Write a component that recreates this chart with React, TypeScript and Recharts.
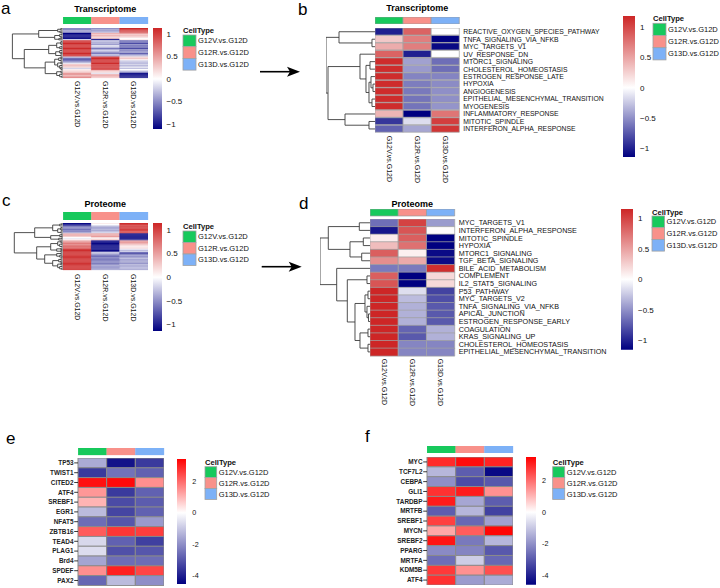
import React from 'react';
import { BarChart, Bar, Cell, XAxis, YAxis, LineChart, Line } from 'recharts';

const FONT = '"Liberation Sans", Arial, Helvetica, sans-serif';

// ---- shared categories ----
const cellTypes = ['G12V.vs.G12D', 'G12R.vs.G12D', 'G13D.vs.G12D'];
const cellTypeColors = ['#17C95C', '#F8918A', '#7DB1F7'];
const cellKeys = ['g12v', 'g12r', 'g13d'];

// ---- panel a: transcriptome, all genes (rows of G12V, G12R, G13D) ----
const aValues = [
  [-0.5, -0.5, 1.1], [-0.6, -0.4, 1.1], [-0.4, -0.5, 1.0], [-0.5, -0.3, 0.9],
  [-1.1, 0.4, 0.5], [-1.1, 0.3, 0.3], [-1.1, 0.5, 0.4], [-1.1, 0.2, 0.2], [-1.1, 0.3, 0.0],
  [-0.2, -1.1, 0.1],
  [1.1, -0.2, -0.7], [1.1, -0.4, -0.6], [1.1, -0.3, -0.8], [1.1, -0.5, -0.5], [1.1, -0.1, -0.7],
  [1.1, -0.3, -0.6], [1.1, -0.6, -0.8], [1.1, -0.4, -0.5], [1.1, -0.2, -0.6], [1.1, -0.5, -0.4],
  [1.1, -0.6, -0.7], [1.1, -0.3, -0.5], [1.1, -0.4, -0.3],
  [-0.3, 1.1, 0.2], [-0.6, 1.1, 0.3], [-0.8, 1.1, 0.1], [-0.7, 1.1, -0.2], [-0.4, 1.1, -0.3],
  [-0.1, 1.1, -0.3], [0.3, 1.0, -0.2], [0.4, 1.1, -0.4], [0.2, 1.0, -0.1], [-0.2, 0.9, -0.3], [0.1, 1.0, 0.0],
  [0.2, 0.3, -0.2], [0.3, 0.2, -0.5], [0.5, -0.1, -1.0], [0.6, 0.4, -1.1], [0.4, 0.5, -1.1], [0.7, 0.3, -1.0],
];
// dendrogram: [height, left, right], leaves are row indexes
const aTree: any = [50.3,
  [24, [5, [2, 0, 1], [3, 2, 3]], [8, [3, [1, 4, 5], [2, 6, 7]], [4, 8, 9]]],
  [38.4,
    [14, [6, [2, [1, 10, 11], [1, 12, 13]], [3, [1, 14, 15], 16]], [7, [3, [1, 17, 18], [2, 19, 20]], [2, 21, 22]]],
    [17.5,
      [8, [4, [2, 23, 24], [2, 25, 26]], [5, [2, 27, 28], [3, [1, 29, 30], [2, 31, [1, 32, 33]]]]],
      [6, [2, 34, 35], [3, [1, 36, 37], [1, 38, 39]]]]]];

// ---- panel b: transcriptome hallmark pathways ----
const bRows = [
  'REACTIVE_OXYGEN_SPECIES_PATHWAY', 'TNFA_SIGNALING_VIA_NFKB', 'MYC_TARGETS_V1', 'UV_RESPONSE_DN',
  'MTORC1_SIGNALING', 'CHOLESTEROL_HOMEOSTASIS', 'ESTROGEN_RESPONSE_LATE', 'HYPOXIA', 'ANGIOGENESIS',
  'EPITHELIAL_MESENCHYMAL_TRANSITION', 'MYOGENESIS', 'INFLAMMATORY_RESPONSE', 'MITOTIC_SPINDLE',
  'INTERFERON_ALPHA_RESPONSE',
];
const bValues = [
  [-1.0, 0.85, 0.0], [0.3, 0.7, -1.15], [0.45, 0.7, -1.1], [0.85, -1.0, 0.0],
  [1.15, -0.42, -0.65], [1.15, -0.45, -0.65], [1.15, -0.55, -0.55], [1.15, -0.58, -0.52],
  [1.15, -0.6, -0.5], [1.15, -0.62, -0.5], [1.15, -0.62, -0.48], [0.4, -1.15, 0.75],
  [-0.9, -0.15, 1.05], [-0.7, -0.4, 1.1],
];
const bTree: any = [49,
  [36, 0, [3, 1, 2]],
  [47, [15, 3, [9, [5, 4, 5], [6, [4, 6, [2, 7, 8]], [3, 9, 10]]]], [30, 11, [6, 12, 13]]]];

// ---- panel c: proteome, all proteins ----
const cValues = [
  [-1.1, 0.1, 1.1], [-1.0, 0.0, 1.1], [-0.9, -0.2, 1.0],
  [-0.6, -0.4, 1.1], [-0.5, -0.5, 1.0], [-0.7, -0.3, 1.1], [-0.5, -0.4, 1.0], [-0.6, -0.3, 0.9], [-0.4, -0.2, 1.0],
  [0.4, 0.5, -1.1], [0.5, 0.4, -1.1], [0.3, 0.6, -1.0],
  [0.0, 0.2, -1.0], [-0.1, 0.1, -1.1], [0.1, 0.3, -0.9],
  [0.5, -1.1, 0.5], [0.6, -1.1, 0.6], [0.7, -1.1, 0.4], [0.6, -1.1, 0.3], [0.8, -1.1, 0.2], [0.9, -1.1, 0.1], [0.8, -1.1, 0.2],
  [1.1, -1.0, -0.1], [1.1, -1.1, -0.3], [1.1, -0.9, -0.2],
  [1.1, -0.2, -0.8], [1.1, -0.4, -0.9],
  [1.1, -0.6, -0.4], [1.1, -0.7, -0.5], [1.1, -0.5, -0.4], [1.1, -0.6, -0.3], [1.1, -0.7, -0.5],
  [1.1, -0.6, -0.4], [1.1, -0.5, -0.4], [1.1, -0.6, -0.5], [1.1, -0.5, -0.3], [1.1, -0.4, -0.4],
  [1.1, -0.5, -0.4], [1.1, -0.5, -0.3], [1.1, -0.4, -0.4],
];
const cTree: any = [48.4,
  [28, [10, [3, [1, 0, 1], 2], [5, [2, [1, 3, 4], [1, 5, 6]], [2, 7, 8]]], [12, [3, [1, 9, 10], 11], [4, [1, 12, 13], 14]]],
  [26,
    [12, [5, [2, 15, 16], [3, [1, 17, 18], [1, 19, 20]]], [6, [2, 21, 22], [2, 23, 24]]],
    [18, [6, [2, 25, 26], [3, 27, [1, 28, 29]]], [10, [4, [2, 30, 31], [2, 32, 33]], [5, [2, 34, 35], [3, [1, 36, 37], [1, 38, 39]]]]]]];

// ---- panel d: proteome hallmark pathways ----
const dRows = [
  'MYC_TARGETS_V1', 'INTERFERON_ALPHA_RESPONSE', 'MITOTIC_SPINDLE', 'HYPOXIA', 'MTORC1_SIGNALING',
  'TGF_BETA_SIGNALING', 'BILE_ACID_METABOLISM', 'COMPLEMENT', 'IL2_STAT5_SIGNALING', 'P53_PATHWAY',
  'MYC_TARGETS_V2', 'TNFA_SIGNALING_VIA_NFKB', 'APICAL_JUNCTION', 'ESTROGEN_RESPONSE_EARLY',
  'COAGULATION', 'KRAS_SIGNALING_UP', 'CHOLESTEROL_HOMEOSTASIS', 'EPITHELIAL_MESENCHYMAL_TRANSITION',
];
const dValues = [
  [-0.65, 1.0, -0.45], [-1.05, 0.9, 0.02], [0.1, 0.85, -1.15], [0.35, 0.75, -1.15], [0.85, 0.08, -1.1],
  [0.6, 0.45, -1.1], [-0.6, -0.6, 1.1], [0.85, -1.15, 0.2], [0.9, -1.15, 0.2], [1.15, -0.15, -0.85],
  [1.15, -0.3, -0.8], [1.15, -0.35, -0.75], [1.15, -0.35, -0.75], [1.15, -0.35, -0.75],
  [1.15, -0.7, -0.35], [1.15, -0.75, -0.35], [1.15, -0.55, -0.55], [1.15, -0.55, -0.55],
];
const dTree: any = [50,
  [41.7, [10.7, 0, 1], [20, [6.7, 2, 3], [8.3, 4, 5]]],
  [33.3, 6, [22.7, [3, 7, 8], [15, [5, [2, 9, 10], [3, 11, [1.5, 12, 13]]], [10, [2, 14, 15], [2, 16, 17]]]]]];

// ---- panel e / f: transcription factors ----
const eRows = ['TP53', 'TWIST1', 'CITED2', 'ATF4', 'SREBF1', 'EGR1', 'NFAT5', 'ZBTB16', 'TEAD4', 'PLAG1', 'Brd4', 'SPDEF', 'PAX2'];
const eValues = [
  [-1.5, -4.2, -3.5], [-3.5, -2.5, -2.8], [3.2, 3.3, 1.5], [1.4, -3.5, -2.8], [1.0, -3.2, -2.9],
  [-1.2, -3.3, -2.8], [-2.6, -3.0, -1.8], [2.2, 2.7, 2.6], [-0.7, -2.8, -3.4], [-0.6, -3.1, -3.0],
  [-1.6, -2.6, -2.6], [1.5, 3.0, 2.5], [-2.7, -1.2, -2.0],
];
const fRows = ['MYC', 'TCF7L2', 'CEBPA', 'GLI1', 'TARDBP', 'MRTFB', 'SREBF1', 'MYCN', 'SREBF2', 'PPARG', 'MRTFA', 'KDM5B', 'ATF4'];
const fValues = [
  [2.9, 3.3, 3.0], [-1.3, -2.9, -4.4], [-2.0, -3.2, -3.0], [2.8, 3.1, 1.5], [3.1, -1.6, -2.9],
  [-2.9, -1.3, -3.4], [2.6, -2.7, -1.7], [1.2, 2.2, 3.4], [3.2, -2.4, -1.3], [-2.1, -2.2, -3.0],
  [-2.6, -0.9, -2.7], [2.7, 1.5, 2.4], [2.8, -1.8, -1.5],
];

const smallTicks = [1, 0.5, 0, -0.5, -1];
const bigTicks = [2, 0, -2, -4];

type Rgb = number[];
const WHITE: Rgb = [255, 255, 255];
const NAVY: Rgb = [0, 0, 128];
const FIREBRICK: Rgb = [205, 38, 38];
const RED: Rgb = [255, 0, 0];

interface Scale { lo: number; hi: number; low: Rgb; high: Rgb }
const css = (c: Rgb) => `rgb(${c.map((v) => Math.round(v)).join(',')})`;
const mix = (a: Rgb, b: Rgb, t: number) => a.map((v, i) => v + (b[i] - v) * t);
const colorOf = (s: Scale, v: number) =>
  v >= 0 ? css(mix(WHITE, s.high, Math.min(1, v / s.hi))) : css(mix(WHITE, s.low, Math.min(1, v / s.lo)));

const fmtMinus = (v: number) => (v < 0 ? '\u2212' + Math.abs(v) : String(v));
const fmtHyphen = (v: number) => String(v);

type Pt = { h: number; y: number };
const walk = (node: any, out: Pt[][]): Pt => {
  if (typeof node === 'number') return { h: 0, y: node + 0.5 };
  const [h, a, b] = node;
  const l = walk(a, out);
  const r = walk(b, out);
  out.push([{ h: l.h, y: l.y }, { h, y: l.y }, { h, y: r.y }, { h: r.h, y: r.y }]);
  return { h, y: (l.y + r.y) / 2 };
};

const M0 = { top: 0, right: 0, bottom: 0, left: 0 };

const Dendro = ({ left, top, width, height, tree, n }: any) => {
  const segs: Pt[][] = [];
  walk(tree, segs);
  return (
    <div style={{ position: 'absolute', left, top }}>
      <LineChart width={width} height={height} margin={M0}>
        <XAxis type="number" dataKey="h" domain={[0, width]} reversed hide />
        <YAxis type="number" domain={[0, n]} reversed hide />
        {segs.map((s, i) => (
          <Line key={i} data={s} dataKey="y" stroke="#3c3c3c" strokeWidth={0.9} dot={false} isAnimationActive={false} />
        ))}
      </LineChart>
    </div>
  );
};

const Heat = ({ left, top, width, height, rows, values, scale, border, side, labelWidth = 0, labelSize = 7.2, colGap = 3, colLabels }: any) => {
  const data = rows.map((name: string) => ({ name, g12v: 1, g12r: 1, g13d: 1 }));
  const lw = side ? labelWidth : 0;
  const chartLeft = side === 'left' ? left - lw : left;
  const offX = side === 'left' ? lw : 0;
  const chartH = height + (colLabels ? 60 : 0);
  const rowTick = (p: any) => {
    if (side === 'right') {
      return (
        <text x={offX + width + 4} y={p.y} dy="0.35em" fontSize={labelSize} fill="#111" fontFamily={FONT}>
          {p.payload.value}
        </text>
      );
    }
    return (
      <g>
        <text x={lw - 4.5} y={p.y} dy="0.35em" textAnchor="end" fontSize={6.4} fontWeight="bold" fill="#222" fontFamily={FONT}>
          {p.payload.value}
        </text>
        <line x1={lw - 3.8} x2={lw} y1={p.y} y2={p.y} stroke="#222" strokeWidth={0.9} />
      </g>
    );
  };
  const colTick = (p: any) => {
    const y0 = height + colGap;
    return (
      <text x={p.x} y={y0} dy="0.35em" transform={`rotate(90 ${p.x} ${y0})`} fontSize={7} fill="#111" fontFamily={FONT}>
        {cellTypes[Math.floor(p.payload.value)]}
      </text>
    );
  };
  return (
    <div style={{ position: 'absolute', left: chartLeft, top }}>
      <BarChart layout="vertical" width={width + lw} height={chartH} data={data} margin={M0} barCategoryGap={0} barGap={0}>
        <XAxis type="number" domain={[0, 3]} ticks={[0.5, 1.5, 2.5]} interval={0} hide={!colLabels} height={60}
          axisLine={false} tickLine={false} tick={colTick} />
        <YAxis type="category" dataKey="name" orientation={side === 'left' ? 'left' : 'right'} width={lw} hide={!side}
          interval={0} axisLine={false} tickLine={false} tick={rowTick} />
        {cellKeys.map((k, j) => (
          <Bar key={k} dataKey={k} stackId="s" isAnimationActive={false}>
            {values.map((v: number[], i: number) => {
              const fill = colorOf(scale, v[j]);
              return <Cell key={i} fill={fill} stroke={border || fill} strokeWidth={border ? (border === '#8a8a8a' ? 1 : 0.7) : 0.35} />;
            })}
          </Bar>
        ))}
      </BarChart>
    </div>
  );
};

const Annot = ({ left, top, width, height, border }: any) => {
  const data = [{ name: 'CellType', g12v: 1, g12r: 1, g13d: 1 }];
  const lw = 45;
  return (
    <div style={{ position: 'absolute', left, top }}>
      <BarChart layout="vertical" width={width + lw} height={height} data={data} margin={M0} barCategoryGap={0}>
        <XAxis type="number" domain={[0, 3]} hide />
        <YAxis type="category" dataKey="name" orientation="right" width={lw} axisLine={false} tickLine={false}
          tick={(p: any) => (
            <text x={width + 3.5} y={p.y} dy="0.36em" fontSize={7.8} fontWeight="bold" fill="#111" fontFamily={FONT}>
              {p.payload.value}
            </text>
          )} />
        {cellKeys.map((k, j) => (
          <Bar key={k} dataKey={k} stackId="s" fill={cellTypeColors[j]} stroke={border ? '#9a9a9a' : cellTypeColors[j]}
            strokeWidth={border ? 0.7 : 0.3} isAnimationActive={false} />
        ))}
      </BarChart>
    </div>
  );
};

const ColorBar = ({ id, left, top, width, height, scale, ticks, fmt, gap, size = 8 }: any) => {
  const lw = 34;
  const zero = scale.hi / (scale.hi - scale.lo);
  return (
    <div style={{ position: 'absolute', left, top }}>
      <BarChart width={width + lw} height={height} data={[{ name: 'legend', range: [scale.lo, scale.hi] }]} margin={M0} barCategoryGap={0}>
        <defs>
          <linearGradient id={id} x1="0" y1="0" x2="0" y2="1">
            <stop offset="0" stopColor={css(scale.high)} />
            <stop offset={zero} stopColor="#fff" />
            <stop offset="1" stopColor={css(scale.low)} />
          </linearGradient>
        </defs>
        <XAxis type="category" dataKey="name" hide />
        <YAxis type="number" domain={[scale.lo, scale.hi]} ticks={ticks} orientation="right" width={lw} interval={0}
          axisLine={false} tickLine={false}
          tick={(p: any) => (
            <text x={width + gap} y={p.y} dy="0.35em" fontSize={size} fill="#111" fontFamily={FONT}>
              {fmt(p.payload.value)}
            </text>
          )} />
        <Bar dataKey="range" fill={`url(#${id})`} isAnimationActive={false} />
      </BarChart>
    </div>
  );
};

const LegendBox = ({ x, titleY, top, h, w }: any) => (
  <g fontFamily={FONT}>
    <text x={x} y={titleY} fontSize={7.6} fontWeight="bold" fill="#111">CellType</text>
    {cellTypes.map((t, i) => (
      <g key={t}>
        <rect x={x} y={top + i * h} width={w} height={h} fill={cellTypeColors[i]} stroke="#a0a0a0" strokeWidth={0.8} />
        <text x={x + w + 2} y={top + i * h + h / 2} dy="0.35em" fontSize={7.5} fill="#111">{t}</text>
      </g>
    ))}
  </g>
);

const Arrow = ({ x1, x2, y }: any) => (
  <g>
    <line x1={x1} x2={x2 - 9} y1={y} y2={y} stroke="#000" strokeWidth={1.6} />
    <path d={`M${x2},${y} L${x2 - 13},${y - 5} L${x2 - 10},${y} L${x2 - 13},${y + 5} Z`} fill="#000" />
  </g>
);

const scaleA: Scale = { lo: -1.11, hi: 1.13, low: NAVY, high: FIREBRICK };
const scaleB: Scale = { lo: -1.14, hi: 1.18, low: NAVY, high: FIREBRICK };
const scaleC: Scale = { lo: -1.14, hi: 1.15, low: NAVY, high: FIREBRICK };
const scaleD: Scale = { lo: -1.15, hi: 1.15, low: NAVY, high: FIREBRICK };
const scaleE: Scale = { lo: -4.53, hi: 3.42, low: NAVY, high: RED };
const scaleF: Scale = { lo: -4.57, hi: 3.47, low: NAVY, high: RED };

const aRows = aValues.map((_, i) => 'a' + i);
const cRows = cValues.map((_, i) => 'c' + i);

export default function App() {
  return (
    <div style={{ position: 'absolute', left: 0, top: 0, width: 720, height: 588, background: '#fff', fontFamily: FONT }}>
      {/* a */}
      <Dendro left={11} top={28.3} width={51.7} height={50} tree={aTree} n={aValues.length} />
      <Annot left={62.7} top={16.7} width={85} height={7.6} />
      <Heat left={62.7} top={28.3} width={85} height={50} rows={aRows} values={aValues} scale={scaleA} colLabels colGap={3} />
      <ColorBar id="ga" left={152.7} top={28} width={9} height={101} scale={scaleA} ticks={smallTicks} fmt={fmtMinus} gap={4.5} />

      {/* b */}
      <Dendro left={326} top={28} width={49} height={104.7} tree={bTree} n={bValues.length} />
      <Annot left={375} top={17.3} width={84.3} height={7} border />
      <Heat left={375} top={28} width={84.3} height={104.7} rows={bRows} values={bValues} scale={scaleB}
        border="#a0a0a0" side="right" labelWidth={165} labelSize={6.85} colLabels colGap={3} />
      <ColorBar id="gb" left={622.7} top={15.7} width={12} height={141} scale={scaleB} ticks={smallTicks} fmt={fmtMinus} gap={5} />

      {/* c */}
      <Dendro left={13} top={222.7} width={49.7} height={47} tree={cTree} n={cValues.length} />
      <Annot left={62.7} top={212.3} width={85} height={7.7} />
      <Heat left={62.7} top={222.7} width={85} height={47} rows={cRows} values={cValues} scale={scaleC} colLabels colGap={4} />
      <ColorBar id="gc" left={152.7} top={223} width={9} height={108} scale={scaleC} ticks={smallTicks} fmt={fmtMinus} gap={4.5} />

      {/* d */}
      <Dendro left={320} top={219.3} width={50} height={136.7} tree={dTree} n={dValues.length} />
      <Annot left={370} top={209.3} width={84.7} height={7.4} border />
      <Heat left={370} top={219.3} width={84.7} height={136.7} rows={dRows} values={dValues} scale={scaleD}
        border="#a0a0a0" side="right" labelWidth={165} labelSize={7.2} colLabels colGap={3} />
      <ColorBar id="gd" left={621} top={209.3} width={12} height={140.7} scale={scaleD} ticks={smallTicks} fmt={fmtMinus} gap={5} />

      {/* e */}
      <Annot left={78.3} top={448.3} width={86} height={7.4} />
      <Heat left={78.3} top={458.3} width={86} height={127.4} rows={eRows} values={eValues} scale={scaleE}
        border="#8a8a8a" side="left" labelWidth={60} />
      <ColorBar id="ge" left={176.7} top={459.3} width={9.3} height={125} scale={scaleE} ticks={bigTicks} fmt={fmtHyphen} gap={6} size={7.2} />

      {/* f */}
      <Annot left={426.7} top={446} width={86} height={7.3} />
      <Heat left={426.7} top={457.3} width={86} height={128} rows={fRows} values={fValues} scale={scaleF}
        border="#8a8a8a" side="left" labelWidth={60} />
      <ColorBar id="gf" left={526} top={457.3} width={10} height={127.7} scale={scaleF} ticks={bigTicks} fmt={fmtHyphen} gap={6} size={7.2} />

      <svg width={720} height={588} style={{ position: 'absolute', left: 0, top: 0, pointerEvents: 'none' }}>
        <g fontFamily={FONT} fill="#000">
          <text x={1} y={13.5} fontSize={17}>a</text>
          <text x={298} y={15} fontSize={17}>b</text>
          <text x={2} y={205.5} fontSize={17}>c</text>
          <text x={299} y={209} fontSize={17}>d</text>
          <text x={6} y={444} fontSize={17}>e</text>
          <text x={365} y={442} fontSize={17}>f</text>
          <text x={105.2} y={11.5} fontSize={9} fontWeight="bold" textAnchor="middle">Transcriptome</text>
          <text x={417.2} y={10.5} fontSize={9} fontWeight="bold" textAnchor="middle">Transcriptome</text>
          <text x={105.2} y={206.5} fontSize={9} fontWeight="bold" textAnchor="middle">Proteome</text>
          <text x={412.3} y={206.5} fontSize={9} fontWeight="bold" textAnchor="middle">Proteome</text>
        </g>
        <LegendBox x={183} titleY={32.5} top={35} h={11.7} w={13} />
        <LegendBox x={653} titleY={21} top={23.3} h={12.2} w={13} />
        <LegendBox x={183} titleY={228.5} top={231} h={11.5} w={13} />
        <LegendBox x={652} titleY={214.5} top={216} h={11.7} w={12.5} />
        <LegendBox x={205} titleY={465} top={466.7} h={10.9} w={11.7} />
        <LegendBox x={552.7} titleY={465} top={466.7} h={10.9} w={12} />
        <Arrow x1={260} x2={300} y={71.7} />
        <Arrow x1={261.7} x2={301.7} y={266.7} />
      </svg>
    </div>
  );
}
